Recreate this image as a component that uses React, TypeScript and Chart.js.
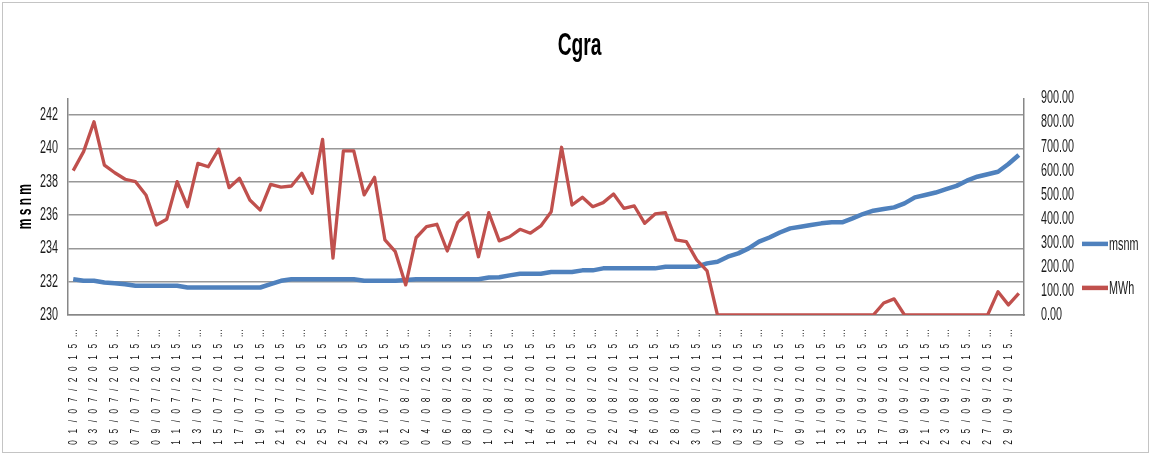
import React, { useEffect, useRef } from 'react';
import { Chart, registerables } from 'chart.js';

Chart.register(...registerables);

const TITLE = 'Cgra';
const Y_LEFT_TITLE = 'm s n m';
const SERIES_NAMES = ['msnm', 'MWh'];

const dates = [
  '01/07/2015', '02/07/2015', '03/07/2015', '04/07/2015', '05/07/2015', '06/07/2015', '07/07/2015', '08/07/2015',
  '09/07/2015', '10/07/2015', '11/07/2015', '12/07/2015', '13/07/2015', '14/07/2015', '15/07/2015', '16/07/2015',
  '17/07/2015', '18/07/2015', '19/07/2015', '20/07/2015', '21/07/2015', '22/07/2015', '23/07/2015', '24/07/2015',
  '25/07/2015', '26/07/2015', '27/07/2015', '28/07/2015', '29/07/2015', '30/07/2015', '31/07/2015',
  '01/08/2015', '02/08/2015', '03/08/2015', '04/08/2015', '05/08/2015', '06/08/2015', '07/08/2015', '08/08/2015',
  '09/08/2015', '10/08/2015', '11/08/2015', '12/08/2015', '13/08/2015', '14/08/2015', '15/08/2015', '16/08/2015',
  '17/08/2015', '18/08/2015', '19/08/2015', '20/08/2015', '21/08/2015', '22/08/2015', '23/08/2015', '24/08/2015',
  '25/08/2015', '26/08/2015', '27/08/2015', '28/08/2015', '29/08/2015', '30/08/2015', '31/08/2015',
  '01/09/2015', '02/09/2015', '03/09/2015', '04/09/2015', '05/09/2015', '06/09/2015', '07/09/2015', '08/09/2015',
  '09/09/2015', '10/09/2015', '11/09/2015', '12/09/2015', '13/09/2015', '14/09/2015', '15/09/2015', '16/09/2015',
  '17/09/2015', '18/09/2015', '19/09/2015', '20/09/2015', '21/09/2015', '22/09/2015', '23/09/2015', '24/09/2015',
  '25/09/2015', '26/09/2015', '27/09/2015', '28/09/2015', '29/09/2015', '30/09/2015',
];

const msnm = [
  232.15, 232.05, 232.05, 231.95, 231.9, 231.85, 231.75, 231.75, 231.75, 231.75,
  231.75, 231.65, 231.65, 231.65, 231.65, 231.65, 231.65, 231.65, 231.65, 231.85,
  232.05, 232.15, 232.15, 232.15, 232.15, 232.15, 232.15, 232.15, 232.05, 232.05,
  232.05, 232.05, 232.1, 232.15, 232.15, 232.15, 232.15, 232.15, 232.15, 232.15,
  232.25, 232.27, 232.38, 232.48, 232.48, 232.48, 232.58, 232.58, 232.58, 232.68,
  232.68, 232.8, 232.8, 232.8, 232.8, 232.8, 232.8, 232.9, 232.9, 232.9,
  232.9, 233.1, 233.2, 233.5, 233.7, 234.0, 234.4, 234.65, 234.95, 235.2,
  235.3, 235.4, 235.5, 235.56, 235.56, 235.8, 236.06, 236.26, 236.36, 236.46,
  236.7, 237.06, 237.2, 237.35, 237.55, 237.75, 238.06, 238.3, 238.45, 238.6,
  239.06, 239.6,
];

const mwh = [
  600, 679, 803, 623, 591, 564, 554, 499, 374, 398,
  554, 450, 630, 616, 689, 529, 568, 478, 436, 543,
  531, 536, 589, 506, 730, 236, 682, 682, 499, 572,
  312, 263, 125, 321, 367, 377, 266, 385, 425, 242,
  425, 308, 325, 356, 340, 370, 429, 697, 457, 489,
  450, 467, 503, 443, 453, 381, 420, 425, 312, 305,
  229, 183, 0, 0, 0, 0, 0, 0, 0, 0,
  0, 0, 0, 0, 0, 0, 0, 0, 50, 67,
  0, 0, 0, 0, 0, 0, 0, 0, 0, 97,
  42, 90,
];

const BLUE = '#4f81bd';
const RED = '#c0504d';
const FONT = "'Liberation Sans', Arial, sans-serif";
const TEXT = '#1a1a1a';
const AXIS = '#878787';
const GRID = '#989898';
const SQUEEZE = 0.6;
const LABEL_SQUEEZE = 0.7;
const SEP = '\u2002 ';

// The reference uses a very condensed face; draw text horizontally condensed.
const narrowText = {
  id: 'narrowText',
  beforeInit(chart: any) {
    const ctx = chart.ctx;
    const orig = ctx.fillText.bind(ctx);
    ctx.fillText = (text: string, x: number, y: number, maxWidth?: number) => {
      const k = String(text).indexOf('\u2002') >= 0 ? LABEL_SQUEEZE : SQUEEZE;
      const w = ctx.measureText(text).width * k;
      const mw = maxWidth === undefined ? w : Math.min(w, maxWidth);
      if (!(mw > 0)) return;
      orig(text, x, y, mw);
    };
  },
};

const sideLegend = {
  id: 'sideLegend',
  afterDraw(chart: any) {
    const { ctx, chartArea } = chart;
    const x0 = chartArea.right + 58;
    const lineLen = 26;
    const rows = [chartArea.top + 145.5, chartArea.top + 189.5];
    ctx.save();
    chart.data.datasets.forEach((ds: any, i: number) => {
      const y = rows[i];
      ctx.strokeStyle = ds.borderColor;
      ctx.lineWidth = 4.5;
      ctx.lineCap = 'butt';
      ctx.beginPath();
      ctx.moveTo(x0, y);
      ctx.lineTo(x0 + lineLen, y);
      ctx.stroke();
      ctx.fillStyle = TEXT;
      ctx.font = `18px ${FONT}`;
      ctx.textBaseline = 'middle';
      ctx.textAlign = 'left';
      ctx.fillText(ds.label, x0 + lineLen + 1, y + 1);
    });
    ctx.restore();
  },
};

export default function App() {
  const canvasRef = useRef<HTMLCanvasElement | null>(null);

  useEffect(() => {
    document.body.style.margin = '0';
    const canvas = canvasRef.current;
    if (!canvas) return;
    const chart = new Chart(canvas, {
      type: 'line',
      data: {
        labels: dates,
        datasets: [
          {
            label: SERIES_NAMES[0],
            data: msnm,
            yAxisID: 'y',
            borderColor: BLUE,
            backgroundColor: BLUE,
            borderWidth: 4.5,
            pointRadius: 0,
            tension: 0,
            borderJoinStyle: 'round',
            order: 2,
          },
          {
            label: SERIES_NAMES[1],
            data: mwh,
            yAxisID: 'y1',
            borderColor: RED,
            backgroundColor: RED,
            borderWidth: 3.3,
            pointRadius: 0,
            tension: 0,
            borderJoinStyle: 'round',
            order: 1,
          },
        ],
      },
      options: {
        animation: false,
        responsive: true,
        maintainAspectRatio: false,
        layout: { padding: { left: 8, right: 0, top: 0, bottom: 0 } },
        plugins: {
          legend: { display: false },
          tooltip: { enabled: false },
          title: {
            display: true,
            text: TITLE,
            color: '#000',
            font: { family: FONT, size: 32, weight: 'bold' },
            padding: { top: 27, bottom: 33 },
          },
        },
        scales: {
          x: {
            type: 'category',
            offset: true,
            grid: { display: false },
            border: { display: true, color: AXIS, width: 1.5 },
            ticks: {
              autoSkip: false,
              minRotation: 90,
              maxRotation: 90,
              padding: 6,
              color: TEXT,
              font: { family: FONT, size: 12 },
              callback: function (this: any, value: any, index: number) {
                if (index % 2 !== 0) return null;
                const s: string = this.getLabelForValue(value);
                return s.split('').join(SEP) + SEP + '\u2026';
              },
            },
            afterFit: (scale: any) => {
              scale.height = 139;
            },
          },
          y: {
            position: 'left',
            min: 230,
            max: 243,
            grid: { color: GRID, lineWidth: 1.5, drawTicks: false },
            border: { display: true, color: AXIS, width: 1.5 },
            ticks: {
              stepSize: 2,
              autoSkip: false,
              includeBounds: false,
              padding: 10,
              color: TEXT,
              font: { family: FONT, size: 18 },
            },
            title: {
              display: true,
              text: Y_LEFT_TITLE,
              color: '#000',
              font: { family: FONT, size: 20, weight: 'bold' },
              padding: { top: 5, bottom: 0 },
            },
            afterFit: (scale: any) => {
              scale.width = 60;
            },
          },
          y1: {
            position: 'right',
            min: 0,
            max: 900,
            grid: { display: false, drawOnChartArea: false },
            border: { display: true, color: AXIS, width: 1.5 },
            ticks: {
              stepSize: 100,
              autoSkip: false,
              padding: 9,
              color: TEXT,
              font: { family: FONT, size: 18 },
              callback: (v: any) => Number(v).toFixed(2),
            },
            afterFit: (scale: any) => {
              scale.width = 127;
            },
          },
        },
      },
      plugins: [narrowText, sideLegend],
    } as any);
    return () => chart.destroy();
  }, []);

  return (
    <div style={{ position: 'relative', width: 1151, height: 454, background: '#fff' }}>
      <div style={{ position: 'absolute', left: 0, top: 0, width: 1151, height: 454 }}>
        <canvas ref={canvasRef} />
      </div>
      <div
        style={{
          position: 'absolute',
          left: 2,
          top: 2,
          right: 2,
          bottom: 1,
          border: '1px solid #c4c4c4',
          boxSizing: 'border-box',
          pointerEvents: 'none',
        }}
      />
    </div>
  );
}
